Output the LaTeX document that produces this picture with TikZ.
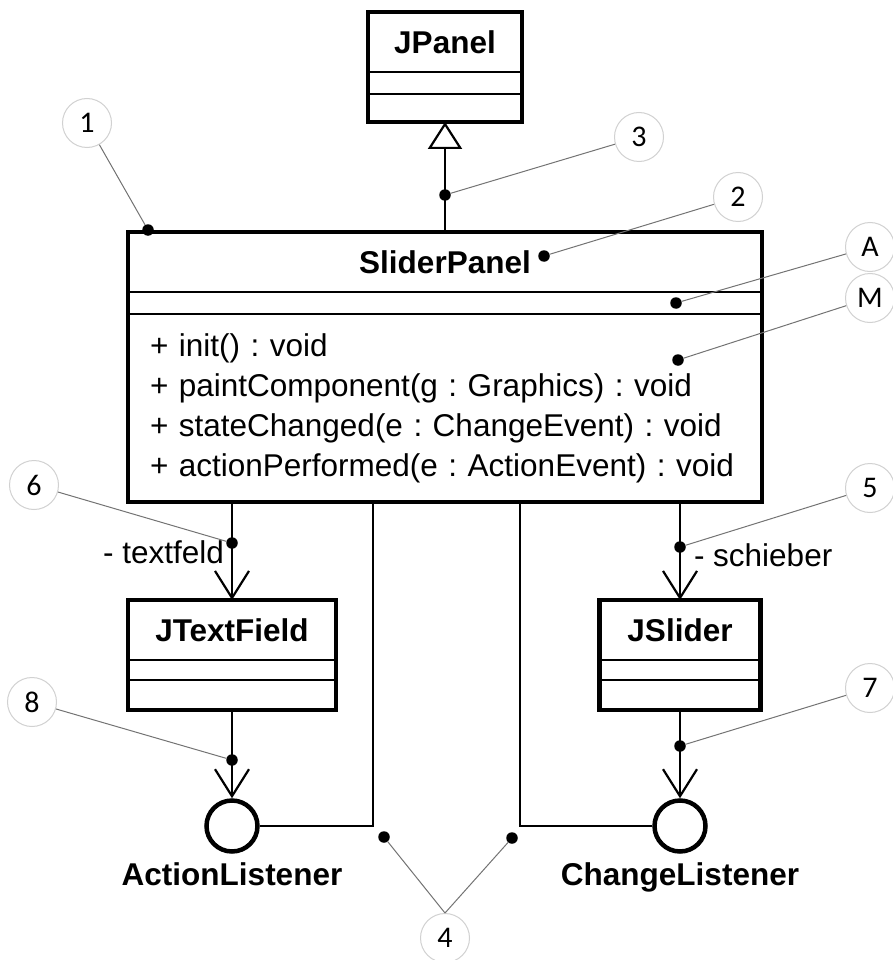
\documentclass[tikz,border=0pt]{standalone}
\usepackage{fontspec}
\setmainfont{Liberation Sans}
\newfontfamily\calloutfont{Carlito}
\usetikzlibrary{arrows.meta,positioning}
\frenchspacing

\begin{document}
\begin{tikzpicture}[
    x=1pt, y=-1pt,
    txt/.style={font=\fontsize{31.5pt}{40pt}\selectfont,inner sep=0pt,outer sep=0pt},
    cname/.style={txt,font=\fontsize{31.5pt}{40pt}\selectfont\bfseries,minimum height=60pt},
    compart/.style={txt,minimum height=#1},
    classframe/.style={line width=4.5pt},
    compline/.style={line width=2.2pt},
    assoc/.style={line width=2.2pt,-{Straight Barb[length=27pt,width=34pt]}},
    iface/.style={circle,draw,line width=4.5pt,minimum size=51pt,inner sep=0pt},
    numball/.style={circle,draw=black!18,fill=white,line width=1pt,minimum size=49pt,
                    inner sep=0pt,font=\calloutfont\fontsize{30pt}{31pt}\selectfont},
    hotspot/.style={circle,fill=black,minimum size=11.5pt,inner sep=0pt},
    pointer/.style={draw=black!55,line width=1pt},
  ]
  \useasboundingbox (0,0) rectangle (892,960);

  % --- superclass ---
  \node[cname,minimum width=154pt] (jpanel) at (445,42) {JPanel};
  \node[compart=22pt,minimum width=154pt,below=0pt of jpanel]   (jpanel-a) {};
  \node[compart=28pt,minimum width=154pt,below=0pt of jpanel-a] (jpanel-m) {};

  % --- the panel itself ---
  \node[cname,minimum width=634pt] (slider) at (445,262) {SliderPanel};
  \node[compart=22pt,minimum width=634pt,below=0pt of slider] (slider-a) {};
  \node[compart=188pt,minimum width=634pt,text width=590pt,align=left,
        below=0pt of slider-a] (slider-m) {%
    + init() : void\\
    + paintComponent(g : Graphics) : void\\
    + stateChanged(e : ChangeEvent) : void\\
    + actionPerformed(e : ActionEvent) : void};

  % --- used components ---
  \node[cname,minimum width=208pt] (jtext) at (232,630) {JTextField};
  \node[compart=20pt,minimum width=208pt,below=0pt of jtext]   (jtext-a) {};
  \node[compart=30pt,minimum width=208pt,below=0pt of jtext-a] (jtext-m) {};

  \node[cname,minimum width=161pt] (jslider) at (680,630) {JSlider};
  \node[compart=20pt,minimum width=161pt,below=0pt of jslider]   (jslider-a) {};
  \node[compart=30pt,minimum width=161pt,below=0pt of jslider-a] (jslider-m) {};

  \foreach \cls in {jpanel,slider,jtext,jslider} {
    \draw[compline] (\cls.south west) -- (\cls.south east);
    \draw[compline] (\cls-a.south west) -- (\cls-a.south east);
    \draw[classframe] (\cls.north west) rectangle (\cls-m.south east);
  }

  % --- listener interfaces ---
  \node[iface] (alist) at (232,826) {};
  \node[iface] (clist) at (680,826) {};
  \node[cname,minimum height=0pt,below=9pt of alist] (alist-name) {ActionListener};
  \node[cname,minimum height=0pt,below=9pt of clist] (clist-name) {ChangeListener};

  % --- connectors ---
  \draw[compline,-{Triangle[open,length=27pt,width=34pt]}] (slider.north) -- (jpanel-m.south);
  \draw[assoc] (slider-m.south -| jtext.north) -- (jtext.north);
  \draw[assoc] (slider-m.south -| jslider.north) -- (jslider.north);
  \draw[assoc] (jtext-m.south) -- (alist.north);
  \draw[assoc] (jslider-m.south) -- (clist.north);

  \coordinate (atop) at (373,502);
  \coordinate (ctop) at (520,502);
  \draw[compline] (alist.east) -| (atop);
  \draw[compline] (clist.west) -| (ctop);

  \node[txt,anchor=east] (tfeld) at (224,552) {- textfeld};
  \node[txt,anchor=west] (schieb) at (694,555) {- schieber};

  % --- numbered callouts ---
  \node[numball] (n1) at (87,123)  {1};
  \node[numball] (n2) at (738,197) {2};
  \node[numball] (n3) at (639,137) {3};
  \node[numball] (n4) at (445,938) {4};
  \node[numball] (n5) at (870,488) {5};
  \node[numball] (n6) at (34,485)  {6};
  \node[numball] (n7) at (870,688) {7};
  \node[numball] (n8) at (32,702)  {8};
  \node[numball] (nA) at (870,247) {A};
  \node[numball] (nM) at (870,298) {M};

  \node[hotspot] (h1)  at (148,230) {};
  \node[hotspot] (h2)  at (544,256) {};
  \node[hotspot] (h3)  at (445,195) {};
  \node[hotspot] (h4a) at (384,837) {};
  \node[hotspot] (h4b) at (512,838) {};
  \node[hotspot] (h5)  at (680,547) {};
  \node[hotspot] (h6)  at (232,543) {};
  \node[hotspot] (h7)  at (680,746) {};
  \node[hotspot] (h8)  at (232,760) {};
  \node[hotspot] (hA)  at (676,303) {};
  \node[hotspot] (hM)  at (678,360) {};

  \draw[pointer] (n1) -- (h1);
  \draw[pointer] (n2) -- (h2);
  \draw[pointer] (n3) -- (h3);
  \draw[pointer] (n4.north) -- (h4a);
  \draw[pointer] (n4.north) -- (h4b);
  \draw[pointer] (n5) -- (h5);
  \draw[pointer] (n6) -- (h6);
  \draw[pointer] (n7) -- (h7);
  \draw[pointer] (n8) -- (h8);
  \draw[pointer] (nA) -- (hA);
  \draw[pointer] (nM) -- (hM);

\end{tikzpicture}
\end{document}
